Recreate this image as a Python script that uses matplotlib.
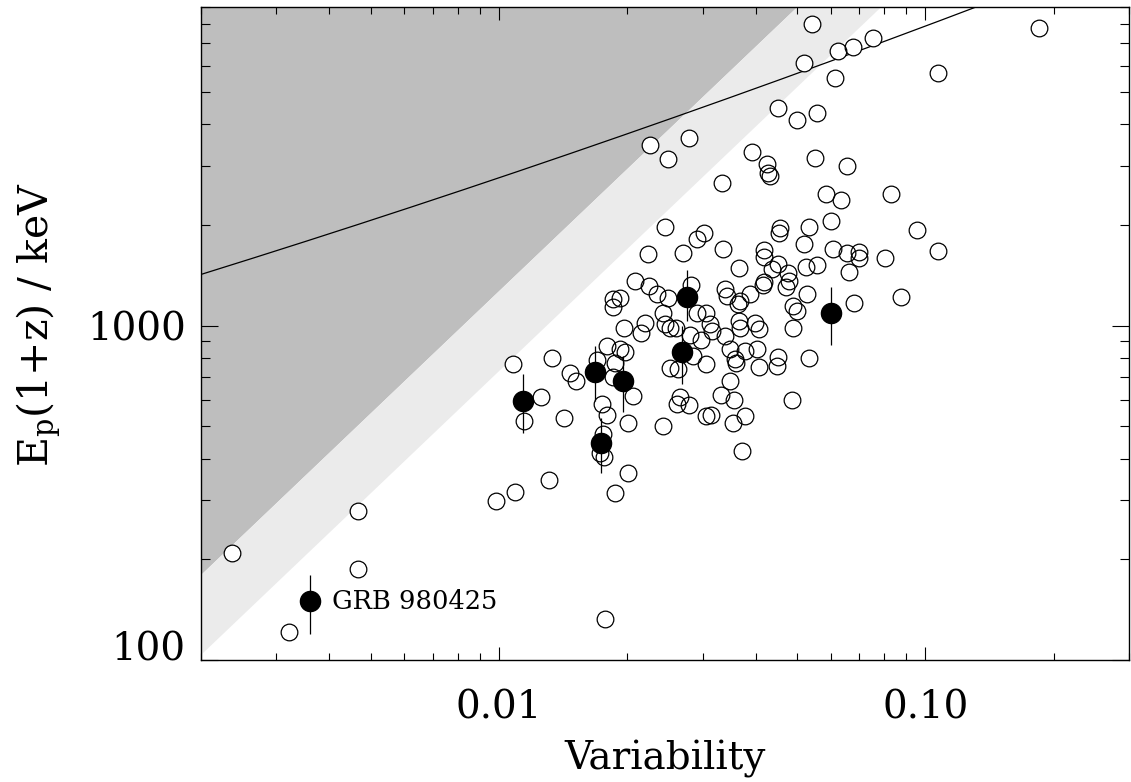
import numpy as np
import matplotlib
matplotlib.use("Agg")
import matplotlib.pyplot as plt
from matplotlib.ticker import LogLocator, NullFormatter

plt.rcParams['font.family'] = ['DejaVu Serif']
plt.rcParams['mathtext.fontset'] = 'custom'
plt.rcParams['mathtext.rm'] = 'DejaVu Serif'
plt.rcParams['mathtext.it'] = 'DejaVu Serif:italic'

# open circles: variability and Ep(1+z) in keV
var_open = [
    0.0541, 0.185, 0.0752, 0.0675, 0.0622, 0.0518, 0.1067, 0.0615, 0.0450, 0.0556,
    0.0501, 0.0279, 0.0226, 0.0391, 0.0552, 0.0249, 0.0424, 0.0656, 0.0427, 0.0431,
    0.0333, 0.0583, 0.0632, 0.0832, 0.0599, 0.0245, 0.0532, 0.0455, 0.0453, 0.0953,
    0.0302, 0.0291, 0.0518, 0.0335, 0.0417, 0.0417, 0.0606, 0.0653, 0.0697, 0.0697,
    0.1067, 0.0270, 0.0223, 0.0802, 0.0365, 0.0436, 0.0450, 0.0524, 0.0556, 0.0660,
    0.0475, 0.0478, 0.0470, 0.0417, 0.0415, 0.0208, 0.02245, 0.0282, 0.0338, 0.0342,
    0.0387, 0.0367, 0.0363, 0.0526, 0.0874, 0.0678, 0.0234, 0.0249, 0.01849, 0.0192,
    0.01849, 0.0488, 0.0501, 0.0242, 0.0291, 0.0305, 0.0245, 0.02515, 0.0260, 0.0220,
    0.0196, 0.0215, 0.0312, 0.0316, 0.0280, 0.0297, 0.0338, 0.0365, 0.0367, 0.0398,
    0.0406, 0.0488, 0.0179, 0.0192, 0.01972, 0.01696, 0.0187, 0.01331, 0.01078, 0.01467,
    0.01515, 0.01849, 0.02515, 0.0263, 0.0285, 0.0305, 0.03475, 0.0377, 0.0402, 0.0357,
    0.0359, 0.0450, 0.0448, 0.0532, 0.0408, 0.03475, 0.0206, 0.01254, 0.01144, 0.0142,
    0.01742, 0.0179, 0.02005, 0.0242, 0.0265, 0.0261, 0.0279, 0.0305, 0.0314, 0.0331,
    0.0355, 0.0353, 0.0377, 0.0486, 0.01752, 0.01724, 0.01762, 0.02005, 0.0371, 0.01309,
    0.0109, 0.00984, 0.0187, 0.004677, 0.002369, 0.004677, 0.003222, 0.01771,
]
ep_open = [
    7970, 7750, 7240, 6800, 6620, 6100, 5690, 5500, 4480, 4320,
    4120, 3640, 3470, 3310, 3170, 3150, 3045, 3000, 2860, 2800,
    2670, 2480, 2380, 2480, 2060, 1975, 1975, 1960, 1895, 1935,
    1895, 1820, 1757, 1698, 1686, 1607, 1698, 1652, 1663, 1596,
    1675, 1652, 1640, 1596, 1490, 1479, 1531, 1500, 1521, 1449,
    1439, 1362, 1307, 1353, 1326, 1362, 1316, 1326, 1289, 1229,
    1246, 1187, 1163, 1246, 1221, 1171, 1246, 1212, 1204, 1212,
    1139, 1147, 1109, 1093, 1093, 1093, 1014, 986, 986, 1021,
    986, 953, 1014, 966, 940, 908, 933, 1035, 986, 1021,
    980, 986, 872, 854, 836, 792, 776, 803, 770, 724,
    681, 700, 749, 744, 814, 770, 854, 842, 854, 797,
    776, 808, 760, 803, 754, 685, 618, 610, 517, 528,
    585, 542, 513, 500, 610, 585, 581, 535, 542, 622,
    601, 513, 535, 601, 473, 415, 406, 362, 421, 345,
    319, 298, 315, 279, 209, 187, 121, 133,
]

# filled circles with error bars (first one is GRB 980425)
var_fill = [0.003608, 0.01138, 0.01678, 0.01951, 0.01733, 0.02683, 0.02756, 0.0599]
ep_fill = [150, 597, 729, 685, 447, 836, 1221, 1093]
ep_lo = [120, 479, 597, 550, 362, 671, 1035, 878]
ep_hi = [179, 719, 872, 814, 531, 1000, 1470, 1307]

# shaded zones: Ep = norm * (V / 0.002)**slope
slope = 1.215
norm_dark = 179.4
norm_light = 103.5

# black curve: log Ep = c0 + c1 log V + c2 (log V)^2
c0, c1, c2 = 4.3972, 0.5246, 0.0236

xmin, xmax = 0.002, 0.3
ymin, ymax = 100, 9000

fig = plt.figure(figsize=(11.31, 7.82), dpi=100)
ax = fig.add_axes([0.1777, 0.1560, 0.8205, 0.8355])
ax.set_xscale('log')
ax.set_yscale('log')

vgrid = np.geomspace(xmin, xmax, 300)
dark_edge = norm_dark * (vgrid / 0.002) ** slope
light_edge = norm_light * (vgrid / 0.002) ** slope
ax.fill_between(vgrid, dark_edge, 1e6, color='#bebebe', lw=0, zorder=1)
ax.fill_between(vgrid, light_edge, dark_edge, color='#ebebeb', lw=0, zorder=1)

lv = np.log10(vgrid)
ax.plot(vgrid, 10 ** (c0 + c1 * lv + c2 * lv ** 2), color='k', lw=0.9, zorder=2)

# white discs first, then all outlines so overlaps stay visible
ax.plot(var_open, ep_open, 'o', ms=12, mfc='white', mec='none', zorder=3)
ax.plot(var_open, ep_open, 'o', ms=12, mfc='none', mec='k', mew=0.9, zorder=4)

yerr = [np.array(ep_fill) - np.array(ep_lo), np.array(ep_hi) - np.array(ep_fill)]
ax.errorbar(var_fill, ep_fill, yerr=yerr, fmt='o', ms=14.5, mfc='k', mec='k',
            ecolor='k', elinewidth=0.9, capsize=0, zorder=5)

ax.annotate('GRB 980425', xy=(var_fill[0], ep_fill[0]), xytext=(16, 0),
            textcoords='offset points', ha='left', va='center', fontsize=18.5)

ax.set_xlim(xmin, xmax)
ax.set_ylim(ymin, ymax)
ax.set_xticks([0.01, 0.1], ['0.01', '0.10'])
ax.set_yticks([100, 1000], ['100', '1000'])
ax.xaxis.set_minor_locator(LogLocator(base=10, subs=np.arange(2, 10)))
ax.yaxis.set_minor_locator(LogLocator(base=10, subs=np.arange(2, 10)))
ax.xaxis.set_minor_formatter(NullFormatter())
ax.yaxis.set_minor_formatter(NullFormatter())

ax.tick_params(which='both', direction='in', top=True, right=True, width=0.8,
               labelsize=28)
ax.tick_params(axis='x', which='major', length=9.4, pad=21)
ax.tick_params(axis='x', which='minor', length=5)
ax.tick_params(axis='y', which='major', length=12.5, pad=11)
ax.tick_params(axis='y', which='minor', length=6.5)
for s in ax.spines.values():
    s.set_linewidth(1.0)

# the bottom label sits on the axis line in the original
for lbl in ax.get_yticklabels():
    if lbl.get_text() == '100':
        lbl.set_va('baseline')

ax.set_xlabel('Variability', fontsize=28, va='center')
ax.xaxis.set_label_coords(0.5, -0.152)
ax.set_ylabel('E$_{\\rm p}$(1+z) / keV', fontsize=29.5, va='center')
ax.yaxis.set_label_coords(-0.1756, 0.513)

fig.savefig('out.png', dpi=100)
